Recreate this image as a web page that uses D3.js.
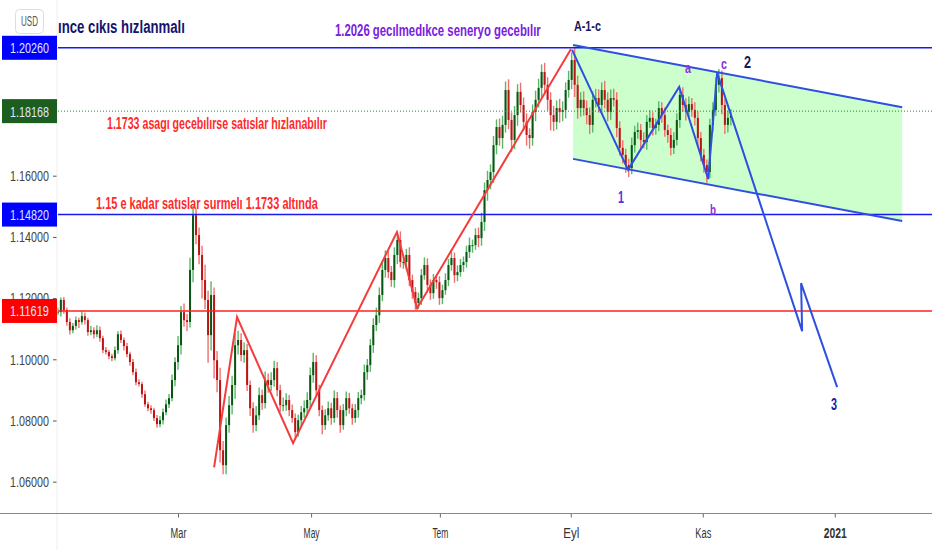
<!DOCTYPE html>
<html>
<head>
<meta charset="utf-8">
<script src="https://cdnjs.cloudflare.com/ajax/libs/d3/7.8.5/d3.min.js"></script>
<style>
  html, body { margin: 0; padding: 0; background: #fff; }
  text { font-family: "Liberation Sans", "Roboto", sans-serif; }
</style>
</head>
<body>
<svg id="chart" width="932" height="550"></svg>
<script>
// x is the day number counted from the start of 2020, candles are ~1.4 days apart
const firstCandleDay = 5;
const candleStepDays = 1.4;

const closes = [
  1.1154,1.1194,1.1161,1.1122,1.1095,1.1109,1.1128,1.1122,1.1141,1.1128,1.1089,1.1095,1.1082,1.1095,1.1069,1.1030,1.1024,1.1010,1.1004,1.1030,
  1.1082,1.1063,1.1043,1.1017,1.0991,1.0958,1.0925,1.0919,1.0886,1.0853,1.0840,1.0834,1.0808,1.0788,1.0801,1.0827,1.0853,1.0873,1.0932,1.0991,
  1.1046,1.1154,1.1128,1.1122,1.1292,1.1471,1.1406,1.1341,1.1259,1.1194,1.1079,1.1210,1.0997,1.0932,1.0703,1.0654,1.0785,1.0850,1.0916,1.1046,
  1.1063,1.1014,1.1030,1.0916,1.0840,1.0785,1.0817,1.0883,1.0857,1.0932,1.0916,1.0932,1.0971,1.0899,1.0850,1.0850,1.0867,1.0834,1.0808,1.0762,
  1.0801,1.0827,1.0840,1.0867,1.0948,1.0991,1.0899,1.0834,1.0785,1.0817,1.0840,1.0808,1.0873,1.0834,1.0785,1.0834,1.0873,1.0840,1.0808,1.0834,
  1.0873,1.0883,1.0958,1.0981,1.1046,1.1112,1.1144,1.1210,1.1292,1.1331,1.1285,1.1259,1.1341,1.1390,1.1318,1.1318,1.1341,1.1259,1.1220,1.1184,
  1.1200,1.1275,1.1308,1.1243,1.1216,1.1259,1.1252,1.1200,1.1226,1.1259,1.1308,1.1331,1.1275,1.1285,1.1308,1.1318,1.1351,1.1373,1.1373,1.1406,
  1.1396,1.1449,1.1553,1.1586,1.1612,1.1700,1.1759,1.1723,1.1766,1.1880,1.1782,1.1717,1.1798,1.1874,1.1831,1.1776,1.1733,1.1723,1.1808,1.1848,
  1.1887,1.1939,1.1897,1.1848,1.1798,1.1776,1.1821,1.1808,1.1815,1.1880,1.1913,1.1978,1.1897,1.1821,1.1848,1.1821,1.1798,1.1766,1.1848,1.1854,
  1.1831,1.1880,1.1848,1.1808,1.1854,1.1848,1.1756,1.1691,1.1668,1.1635,1.1625,1.1700,1.1743,1.1749,1.1717,1.1710,1.1776,1.1789,1.1756,1.1766,
  1.1821,1.1798,1.1749,1.1733,1.1691,1.1717,1.1782,1.1864,1.1831,1.1808,1.1834,1.1815,1.1789,1.1723,1.1668,1.1635,1.1612,1.1766,1.1815,1.1897,
  1.1919,1.1831,1.1766,1.1789,1.1798
];

// wick lengths in pips, above and below the body of each candle
const upperWicks = [
  15,8,10,8,12,10,12,8,16,12,8,14,10,16,12,8,10,6,8,12,
  10,12,8,10,8,10,12,10,8,12,8,10,8,10,14,12,16,14,18,16,
  30,20,28,20,40,30,20,25,30,50,30,45,25,30,40,30,25,30,30,40,
  30,22,25,20,15,20,30,25,18,28,22,26,24,20,18,25,22,16,18,15,
  18,20,25,25,25,30,22,18,15,20,22,18,25,20,15,20,22,18,15,20,
  20,18,25,20,20,22,25,25,28,25,22,20,25,25,28,22,20,25,18,16,
  18,20,25,22,18,20,15,20,18,22,20,25,18,22,20,18,20,25,18,22,
  25,30,25,30,25,30,25,28,30,28,35,25,30,25,30,25,28,22,25,30,
  30,25,30,25,25,30,25,30,28,25,30,25,40,30,25,28,25,25,28,30,
  28,25,30,25,28,30,25,22,25,20,20,25,20,25,20,25,22,25,18,20,
  22,20,25,18,22,25,22,20,25,22,25,20,25,22,20,20,18,20,25,25,
  30,25,20,22,20
];
const lowerWicks = [
  10,14,12,12,14,10,12,20,8,14,12,10,14,10,12,10,8,10,10,8,
  12,10,14,10,12,10,10,8,12,8,10,12,10,12,10,14,10,12,10,20,
  25,30,22,30,18,40,30,30,60,30,90,50,60,40,40,30,30,25,30,45,
  30,20,25,20,25,25,20,15,22,18,25,20,22,20,22,20,18,20,15,25,
  15,20,18,25,25,25,22,20,30,15,18,22,15,25,25,15,20,18,22,15,
  25,20,18,25,22,25,20,25,20,25,20,22,25,30,18,22,25,20,22,22,
  20,22,15,25,22,18,22,22,20,15,20,18,25,20,15,22,18,20,25,15,
  30,25,30,35,30,35,30,25,35,25,30,40,30,35,25,30,35,35,25,30,
  25,30,25,35,50,30,25,35,30,28,25,30,40,35,28,25,30,30,25,25,
  25,30,28,30,25,22,30,25,28,25,30,20,25,22,28,20,25,20,25,22,
  20,25,22,25,25,20,18,25,22,28,20,22,25,25,22,25,35,20,22,20,
  25,30,30,25,25
];

const priceTicks = [1.06, 1.08, 1.10, 1.12, 1.14, 1.16];
const timeTicks = [61, 123, 183, 244, 305.5, 367];
const timeLabels = ["Mar", "May", "Tem", "Eyl", "Kas", "2021"];

// horizontal levels as drawn on the picture, and the tags printed for them
const blueLevels = [1.2018, 1.1473];
const redLevel = 1.1158;
const lastPriceLevel = 1.1811;
const tagLabels = ["1.20260", "1.18168", "1.14820", "1.11619"];
const tagColors = ["#0000ff", "#1b5e20", "#0000ff", "#ff0000"];

// hand drawn waves, [day, price]
const redWave = [[77.8,1.0647],[88.5,1.1138],[114.6,1.0726],[163,1.1416],[172.4,1.1167],[244.1,1.2014]];
const blueWave = [[244.6,1.2011],[270.7,1.1619],[294.5,1.1890],[308,1.1589],[312.2,1.1936],[351.8,1.1092],[351.3,1.1249],[368.1,1.0909]];
const channelTop = [[245.06,1.2027],[398.4,1.1824]];
const channelBottom = [[245.06,1.1655],[398.4,1.1452]];

const width = 932, height = 550;
const axisX = 57, axisY = 513.5;

const x = d3.scaleLinear().domain([5.08, 412.3]).range([58, 932]);
const y = d3.scaleLinear().domain([1.06, 1.16]).range([481.7, 175.7]);

const svg = d3.select("#chart");

// squeeze a text to the given width around its own x, the labels are narrow in the original
function fitWidth(sel, w) {
    sel.each(function (d, i) {
        const target = typeof w === "function" ? w(d, i) : w;
        const x0 = +this.getAttribute("x") || 0;
        const k = target / this.getComputedTextLength();
        this.setAttribute("transform", `translate(${x0},0) scale(${k},1) translate(${-x0},0)`);
    });
}

// channel fill
svg.append("polygon")
    .attr("points", [channelTop[0], channelTop[1], channelBottom[1], channelBottom[0]]
        .map(d => x(d[0]) + "," + y(d[1])).join(" "))
    .attr("fill", "#ccffcc");

// candles
const candles = closes.map((c, i) => {
    const open = i ? closes[i - 1] : c;
    return {
        day: firstCandleDay + i * candleStepDays,
        open: open,
        close: c,
        high: Math.max(open, c) + upperWicks[i] / 10000,
        low: Math.min(open, c) - lowerWicks[i] / 10000
    };
});

svg.append("g").selectAll("line")
    .data(candles)
    .enter()
    .append("line")
    .attr("x1", d => x(d.day))
    .attr("x2", d => x(d.day))
    .attr("y1", d => y(d.high))
    .attr("y2", d => y(d.low))
    .attr("stroke", d => d.close >= d.open ? "#58b868" : "#f07070")
    .attr("stroke-width", 1.4);

svg.append("g").selectAll("rect")
    .data(candles)
    .enter()
    .append("rect")
    .attr("x", d => x(d.day) - 1)
    .attr("y", d => y(Math.max(d.open, d.close)))
    .attr("width", 2)
    .attr("height", d => Math.max(1, Math.abs(y(d.open) - y(d.close))))
    .attr("fill", d => d.close >= d.open ? "#0a5514" : "#bb1414");

// levels
const levelLine = (price, color, w) => svg.append("line")
    .attr("x1", axisX + 1).attr("x2", width)
    .attr("y1", y(price)).attr("y2", y(price))
    .attr("stroke", color).attr("stroke-width", w);

levelLine(lastPriceLevel, "#2e7d32", 1).attr("stroke-dasharray", "1 2");
blueLevels.forEach(p => levelLine(p, "#1a1aee", 1.4));
levelLine(redLevel, "#ff2020", 1.4);

// waves and channel borders
const line = d3.line().x(d => x(d[0])).y(d => y(d[1]));
const drawPath = (pts, color, w) => svg.append("path")
    .attr("d", line(pts))
    .attr("fill", "none")
    .attr("stroke", color)
    .attr("stroke-width", w)
    .attr("stroke-linejoin", "miter");

drawPath(redWave, "#f53c3c", 2);
drawPath(channelTop, "#2f4fe0", 2);
drawPath(channelBottom, "#2f4fe0", 2);
drawPath(blueWave, "#2f4fe0", 2);

// axes
const yAxis = d3.axisLeft(y).tickValues(priceTicks).tickFormat(d3.format(".5f")).tickSize(4).tickPadding(4);
const yG = svg.append("g").attr("transform", `translate(${axisX},0)`).call(yAxis);
yG.select(".domain").remove();
yG.selectAll("line").attr("stroke", "#555");
yG.selectAll("text")
    .attr("fill", "#444")
    .attr("font-size", 15)
    .call(fitWidth, 39);

svg.append("line")
    .attr("x1", axisX).attr("x2", axisX)
    .attr("y1", 0).attr("y2", height)
    .attr("stroke", "#eeeeee");

const xAxis = d3.axisBottom(x).tickValues(timeTicks)
    .tickFormat((d, i) => timeLabels[i]).tickSize(4).tickPadding(10);
const xG = svg.append("g").attr("transform", `translate(0,${axisY})`).call(xAxis);
xG.select(".domain").remove();
xG.selectAll("line").attr("stroke", "#666");
xG.selectAll("text")
    .attr("fill", "#333")
    .attr("font-size", 15)
    .attr("font-weight", (d, i) => timeLabels[i] === "2021" ? "bold" : "normal")
    .call(fitWidth, (d, i) => timeLabels[i] === "2021" ? 23 : 16);

svg.append("line")
    .attr("x1", 0).attr("x2", width)
    .attr("y1", axisY).attr("y2", axisY)
    .attr("stroke", "#888").attr("stroke-width", 1.2);

// price tags on the left
const tagPrices = [blueLevels[0], lastPriceLevel, blueLevels[1], redLevel];
const tags = svg.append("g").selectAll("g")
    .data(tagLabels)
    .enter()
    .append("g")
    .attr("transform", (d, i) => `translate(2,${y(tagPrices[i])})`);
tags.append("rect")
    .attr("x", 0).attr("y", -12)
    .attr("width", 55).attr("height", 24)
    .attr("fill", (d, i) => tagColors[i]);
tags.append("text")
    .attr("x", 8).attr("y", 5.5)
    .attr("fill", "#dfe6ff")
    .attr("font-size", 15)
    .text(d => d)
    .call(fitWidth, 39);

// USD button
svg.append("rect")
    .attr("x", 15.5).attr("y", 9.5).attr("width", 28).attr("height", 24).attr("rx", 4)
    .attr("fill", "#fff").attr("stroke", "#dddddd");
svg.append("text")
    .attr("x", 29.5).attr("y", 26)
    .attr("text-anchor", "middle")
    .attr("fill", "#555")
    .attr("font-size", 14)
    .text("USD")
    .call(fitWidth, 17);

// notes on the chart: text, left edge, baseline, width, size, colour
const notes = [
    ["ınce cıkıs hızlanmalı", 58, 33, 127, 19, "#14146e"],
    ["1.2026 gecılmedıkce seneryo gecebılır", 335, 36, 206, 16, "#7a20e0"],
    ["A-1-c", 574, 31, 27, 15, "#16165e"],
    ["1.1733 asagı gecebılırse satıslar hızlanabılır", 107, 129, 220, 16, "#ff2a2a"],
    ["1.15 e kadar satıslar surmelı 1.1733 altında", 96, 209, 222, 16, "#ff2a2a"],
    ["1", 618, 203, 6, 16, "#5a30e0"],
    ["a", 685, 73, 6, 14, "#8a30e0"],
    ["b", 710, 215, 6, 15, "#8a30e0"],
    ["c", 721, 69, 6, 15, "#8a30e0"],
    ["2", 744, 68, 7, 16, "#16165e"],
    ["3", 831, 410, 6, 16, "#2020a0"]
];
svg.append("g").selectAll("text")
    .data(notes)
    .enter()
    .append("text")
    .attr("x", d => d[1])
    .attr("y", d => d[2])
    .attr("font-size", d => d[4])
    .attr("font-weight", "bold")
    .attr("fill", d => d[5])
    .text(d => d[0])
    .call(fitWidth, d => d[3]);
</script>
</body>
</html>
